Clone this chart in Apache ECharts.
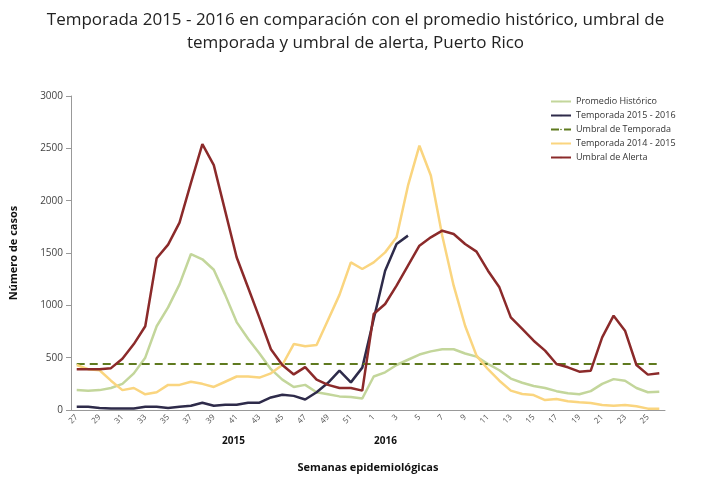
<html lang="es">
<head>
<meta charset="UTF-8">
<title>Temporada 2015 - 2016</title>
<script src="https://cdn.jsdelivr.net/npm/echarts@6/dist/echarts.min.js"></script>
<style>html,body{margin:0;background:#fff}</style>
</head>
<body>
<div id="chart_1" style="width:711px;height:486px"></div>
<script>
// semanas 27-52 de 2015 y 1-26 de 2016
var weeks = [];
for (var w = 27; w <= 52; w++) weeks.push(String(w));
for (var w = 1; w <= 26; w++) weeks.push(String(w));

var promedio = [190,185,190,210,250,350,500,800,980,1200,1490,1440,1340,1100,840,680,540,390,290,220,240,170,150,130,125,110,
                320,360,430,480,530,560,580,580,540,510,440,380,300,260,230,210,180,160,150,180,250,295,280,210,170,175];
var temp1516 = [30,30,20,15,15,15,30,30,20,30,40,70,40,50,50,70,70,120,145,135,100,170,260,376,264,405,
                870,1330,1586,1666];
var umbralTemporada = weeks.map(function () { return 440; });
var temp1415 = [430,390,380,280,190,210,150,170,240,240,270,250,220,270,320,320,310,350,430,630,610,620,860,1100,1410,1347,
                1410,1506,1650,2143,2525,2240,1665,1188,805,520,390,280,185,153,143,95,105,83,73,67,48,41,48,35,13,13];
var umbralAlerta = [390,390,390,400,490,630,800,1450,1580,1790,2170,2540,2340,1900,1460,1170,880,580,430,340,410,290,240,210,210,185,
                    917,1013,1188,1379,1570,1650,1713,1682,1586,1513,1331,1172,885,774,662,567,439,408,366,376,694,901,758,430,338,350];

var myChart = echarts.init(document.getElementById("chart_1"));
var font = "'Open Sans', 'DejaVu Sans', sans-serif";

function serie(name, data, color, dash) {
    return {
        name: name, type: 'line', data: data, symbol: 'none', color: color,
        lineStyle: { width: dash ? 2 : 2.5, type: dash ? [8, 5] : 'solid' }
    };
}

option = {
    animation: false,
    textStyle: { fontFamily: font },
    title: {
        text: 'Temporada 2015 - 2016 en comparación con el promedio histórico, umbral de\ntemporada y umbral de alerta, Puerto Rico',
        left: 'center',
        top: 4,
        textStyle: { fontSize: 17, fontWeight: 'normal', color: '#222', lineHeight: 23, fontFamily: font }
    },
    legend: {
        orient: 'vertical',
        left: 545,
        top: 92,
        itemWidth: 20,
        itemHeight: 2,
        itemGap: 5,
        textStyle: { fontSize: 9, color: '#333' },
        data: ['Promedio Histórico', 'Temporada 2015 - 2016', 'Umbral de Temporada', 'Temporada 2014 - 2015', 'Umbral de Alerta']
    },
    grid: { left: 70, right: 46, top: 96, bottom: 76 },
    xAxis: {
        type: 'category',
        data: weeks,
        boundaryGap: true,
        name: 'Semanas epidemiológicas',
        nameLocation: 'middle',
        nameGap: 52,
        nameTextStyle: { fontSize: 11, fontWeight: 'bold', color: '#111' },
        axisLine: { lineStyle: { color: '#999' } },
        axisTick: { interval: 0, lineStyle: { color: '#999' } },
        axisLabel: { interval: 1, rotate: 45, fontSize: 8, color: '#555', margin: 6 }
    },
    yAxis: {
        type: 'value',
        min: 0,
        max: 3000,
        interval: 500,
        name: 'Número de casos',
        nameLocation: 'middle',
        nameGap: 52,
        nameTextStyle: { fontSize: 11, fontWeight: 'bold', color: '#111' },
        axisLine: { show: true, lineStyle: { color: '#999' } },
        axisTick: { show: true, lineStyle: { color: '#999' } },
        axisLabel: { fontSize: 10, color: '#444', formatter: function (v) { return String(v); } },
        splitLine: { show: false }
    },
    graphic: [
        { type: 'text', left: 222, top: 436, style: { text: '2015', fontSize: 10, fontWeight: 'bold', fill: '#111', fontFamily: font } },
        { type: 'text', left: 374, top: 436, style: { text: '2016', fontSize: 10, fontWeight: 'bold', fill: '#111', fontFamily: font } }
    ],
    series: [
        serie('Promedio Histórico', promedio, '#c3d69b'),
        serie('Temporada 2015 - 2016', temp1516, '#2e2b4a'),
        serie('Umbral de Temporada', umbralTemporada, '#5f7a1f', true),
        serie('Temporada 2014 - 2015', temp1415, '#fad57f'),
        serie('Umbral de Alerta', umbralAlerta, '#8b2a2a')
    ]
};
myChart.setOption(option);
</script>
</body>
</html>
